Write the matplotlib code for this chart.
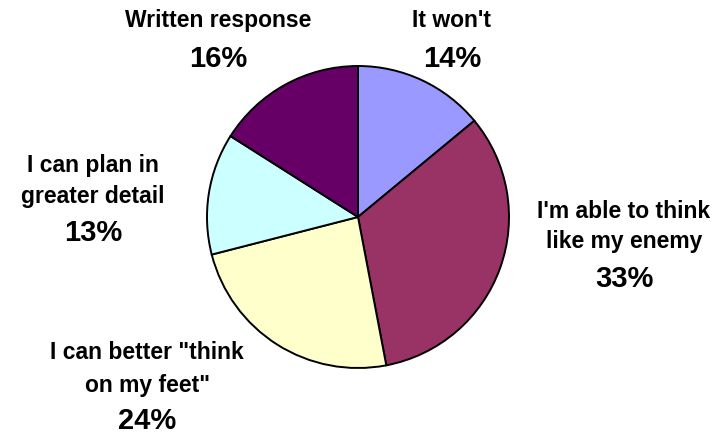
import matplotlib
matplotlib.use("Agg")
import matplotlib.pyplot as plt

# slices, clockwise from 12 o'clock
labels = ["It won't", "I'm able to think\nlike my enemy", "I can better \"think\non my feet\"",
          "I can plan in\ngreater detail", "Written response"]
shares = [14, 33, 24, 13, 16]
colors = ["#9999FF", "#993366", "#FFFFCC", "#CCFFFF", "#660066"]

# label layout in pixels: centre x, baselines of name lines, baseline of percent
label_x = [452, 624, 147, 93, 218]
name_baselines = [[27], [218, 248], [359, 392], [172, 203], [27]]
pct_baselines = [67, 287, 429, 241, 67]

W, H = 723, 434
cx, cy, r = 358, 217, 151

plt.rcParams["font.family"] = ["Liberation Sans", "DejaVu Sans"]

fig = plt.figure(figsize=(W / 100, H / 100), dpi=100)
ax = fig.add_axes([(cx - r) / W, (H - cy - r) / H, 2 * r / W, 2 * r / H])
ax.pie(shares, colors=colors, startangle=90, counterclock=False, radius=1,
       wedgeprops={"edgecolor": "black", "linewidth": 1.4})
ax.set_xlim(-1, 1)
ax.set_ylim(-1, 1)
ax.set_aspect("equal")
ax.axis("off")


def to_data(px, py):
    return (px - cx) / r, (cy - py) / r


for lab, val, x, bls, pb in zip(labels, shares, label_x, name_baselines, pct_baselines):
    for line, b in zip(lab.split("\n"), bls):
        ax.text(*to_data(x, b), line, ha="center", va="baseline", fontsize=16.5,
                fontweight="bold", clip_on=False)
    ax.text(*to_data(x, pb), f"{val}%", ha="center", va="baseline", fontsize=21,
            fontweight="bold", clip_on=False)

fig.savefig("out.png", dpi=100)
